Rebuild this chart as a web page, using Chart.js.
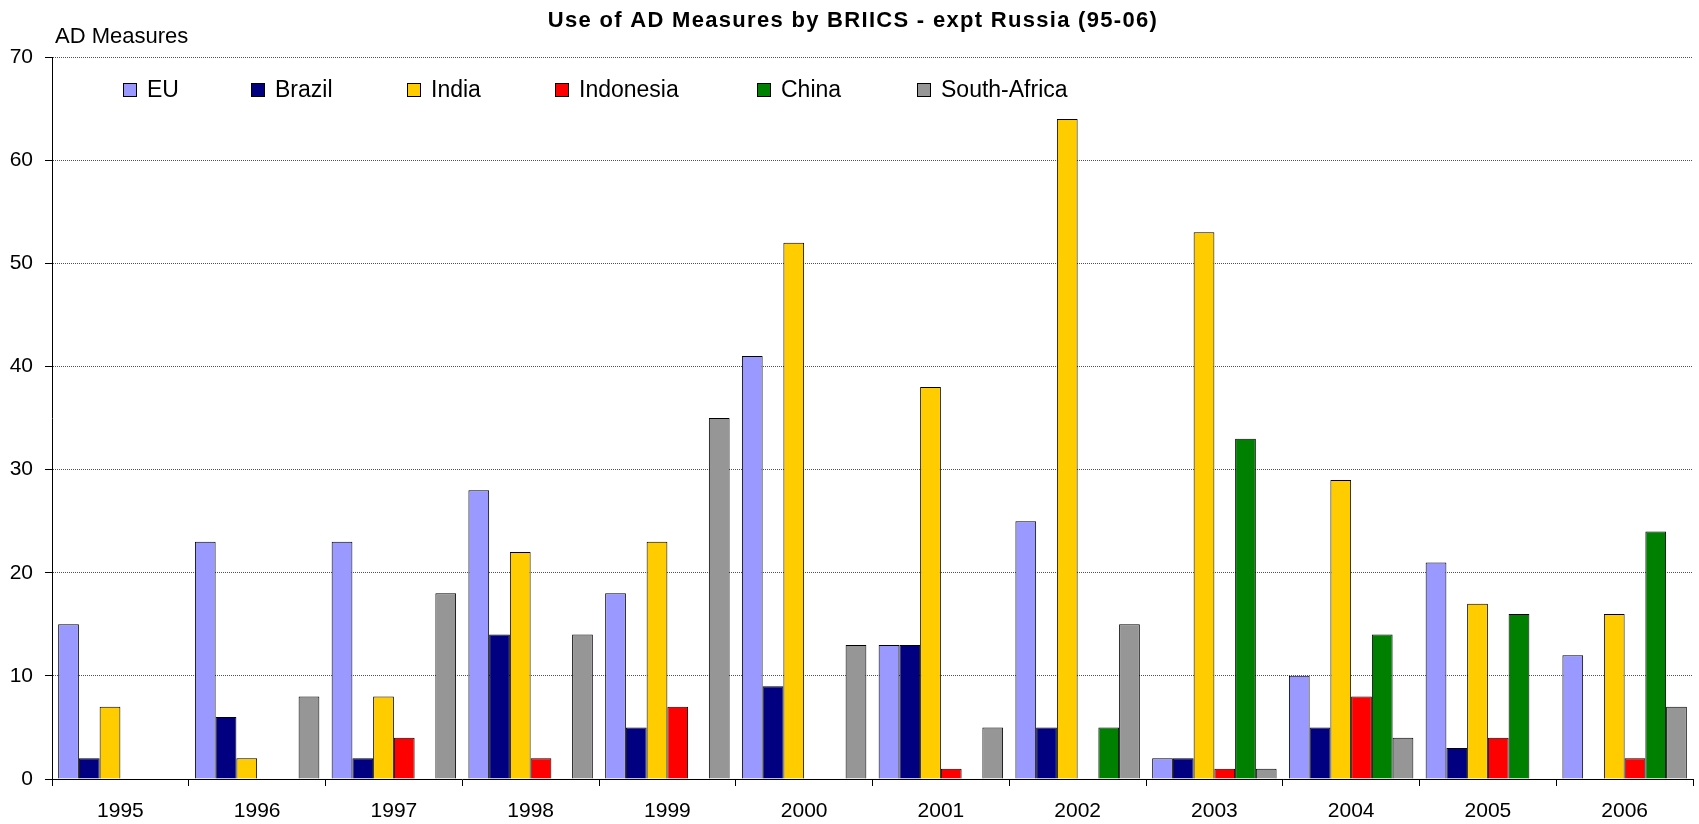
<!DOCTYPE html>
<html>
<head>
<meta charset="utf-8">
<script src="https://cdn.jsdelivr.net/npm/chart.js@4.4.1/dist/chart.umd.min.js"></script>
<style>
  html, body { margin: 0; padding: 0; background: #fff; }
  #wrap { width: 1699px; height: 824px; position: relative; }
</style>
</head>
<body>
<div id="wrap"><canvas id="c" width="1699" height="824"></canvas></div>
<script>
const years = ['1995','1996','1997','1998','1999','2000','2001','2002','2003','2004','2005','2006'];
const eu          = [15, 23, 23, 28, 18, 41, 13, 25,  2, 10, 21, 12];
const brazil      = [ 2,  6,  2, 14,  5,  9, 13,  5,  2,  5,  3,  0];
const india       = [ 7,  2,  8, 22, 23, 52, 38, 64, 53, 29, 17, 16];
const indonesia   = [ 0,  0,  4,  2,  7,  0,  1,  0,  1,  8,  4,  2];
const china       = [ 0,  0,  0,  0,  0,  0,  0,  5, 33, 14, 16, 24];
const southAfrica = [ 0,  8, 18, 14, 35, 13,  5, 15,  1,  4,  0,  7];
const yTicks = [0, 10, 20, 30, 40, 50, 60, 70];

const titleText = 'Use of AD Measures by BRIICS - expt Russia (95-06)';
const yTitle = 'AD Measures';

const FONT = '"Liberation Sans", Arial, sans-serif';

function ds(label, data, color) {
  return { label, data, backgroundColor: color, borderColor: '#000', borderWidth: 1,
           categoryPercentage: 0.91, barPercentage: 1.0 };
}

const extras = {
  id: 'extras',
  afterDraw(chart) {
    const ctx = chart.ctx;
    ctx.save();
    // title
    ctx.fillStyle = '#000';
    ctx.font = 'bold 22px ' + FONT;
    try { ctx.letterSpacing = '1.3px'; } catch (e) {}
    ctx.textAlign = 'center';
    ctx.textBaseline = 'middle';
    ctx.fillText(titleText, 853, 21);
    try { ctx.letterSpacing = '0px'; } catch (e) {}
    // y axis title
    ctx.font = '22px ' + FONT;
    ctx.textAlign = 'left';
    ctx.fillText(yTitle, 55, 37);
    // legend
    const legendX = [123, 251, 407, 555, 757, 917];
    const y = 90;
    chart.data.datasets.forEach((d, i) => {
      const x = legendX[i];
      ctx.fillStyle = d.backgroundColor;
      ctx.fillRect(x, y - 7, 14, 14);
      ctx.strokeStyle = '#000';
      ctx.lineWidth = 1;
      ctx.strokeRect(x + 0.5, y - 6.5, 13, 13);
      ctx.fillStyle = '#000';
      ctx.textAlign = 'left';
      ctx.textBaseline = 'middle';
      ctx.font = '23px ' + FONT;
      ctx.fillText(d.label, x + 24, y + 1);
    });
    ctx.restore();
  }
};

new Chart(document.getElementById('c'), {
  type: 'bar',
  data: {
    labels: years,
    datasets: [
      ds('EU', eu, '#9999FF'),
      ds('Brazil', brazil, '#000080'),
      ds('India', india, '#FFCC00'),
      ds('Indonesia', indonesia, '#FF0000'),
      ds('China', china, '#008000'),
      ds('South-Africa', southAfrica, '#969696')
    ]
  },
  options: {
    responsive: false,
    animation: false,
    devicePixelRatio: 1,
    layout: { padding: { top: 57, right: 6, left: 0, bottom: 0 } },
    plugins: {
      legend: { display: false },
      title: { display: false },
      tooltip: { enabled: false }
    },
    scales: {
      x: {
        afterFit(scale) { scale.height = 45; },
        grid: { offset: true, drawOnChartArea: false, drawTicks: true, tickLength: 7, tickColor: '#000', color: '#000' },
        border: { display: true, color: '#000', width: 1 },
        ticks: { color: '#000', font: { family: FONT, size: 21 }, padding: 13, maxRotation: 0 }
      },
      y: {
        min: 0, max: 70,
        afterFit(scale) { scale.width = 52; },
        afterBuildTicks(scale) { scale.ticks = yTicks.map(v => ({ value: v })); },
        grid: { color: '#505050', lineWidth: 1, tickLength: 7, tickColor: '#000', tickBorderDash: [] },
        border: { display: true, color: '#000', width: 1, dash: [1, 1] },
        ticks: { color: '#000', font: { family: FONT, size: 21 }, padding: 12 }
      }
    }
  },
  plugins: [extras]
});
</script>
</body>
</html>
